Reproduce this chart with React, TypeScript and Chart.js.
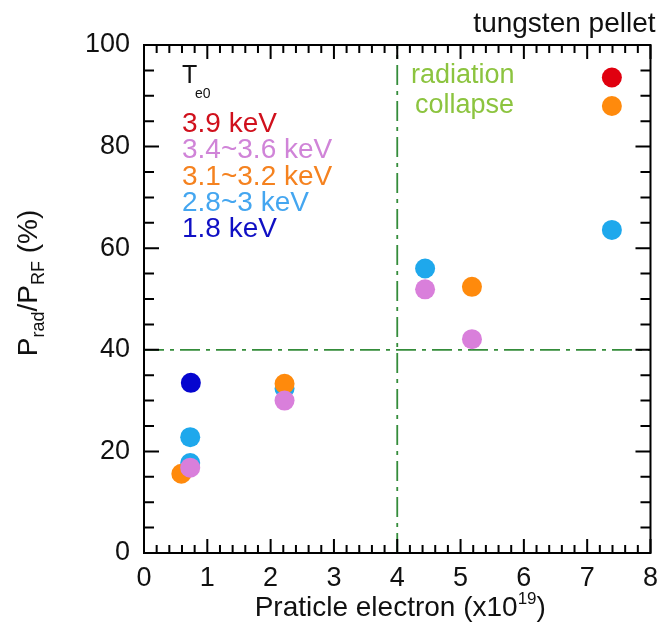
import React, { useEffect, useRef } from "react";
import { Chart, registerables } from "chart.js";

Chart.register(...registerables);

const FONT = '"Liberation Sans", Arial, Helvetica, sans-serif';

// Axis ranges / ticks
const xMin = 0;
const xMax = 8;
const xStep = 1;
const xMinorPerMajor = 5;
const yMin = 0;
const yMax = 100;
const yStep = 20;
const yMinorPerMajor = 4;

// Reference lines ("radiation collapse")
const collapseX = 4;
const collapseY = 40;

// Series (Te0 groups)
const seriesLabels = ["3.9 keV", "3.4~3.6 keV", "3.1~3.2 keV", "2.8~3 keV", "1.8 keV"];
const seriesColors = ["#e0000f", "#d97fdb", "#ff8a0c", "#1ea8ec", "#0505cf"];
const legendColors = ["#d0101c", "#d084d8", "#f5821f", "#44a6f0", "#1010c4"];

const red39X = [7.39];
const red39Y = [93.6];
const violetX = [0.73, 2.22, 4.44, 5.18];
const violetY = [16.8, 30.0, 51.9, 42.1];
const orangeX = [0.59, 2.22, 5.18, 7.39];
const orangeY = [15.6, 33.3, 52.4, 88.0];
const lightBlueX = [0.73, 0.73, 2.22, 4.44, 7.39];
const lightBlueY = [22.8, 17.7, 32.4, 56.0, 63.6];
const darkBlueX = [0.74];
const darkBlueY = [33.5];

const pts = (xs: number[], ys: number[]) => xs.map((x, i) => ({ x, y: ys[i] }));

const LINE_GREEN = "#348c3a";
const TEXT_GREEN = "#8cc43f";

function drawSegments(
  ctx: CanvasRenderingContext2D,
  segs: { t: string; s: number; dy: number }[],
  cx: number,
  baseY: number
) {
  let total = 0;
  for (const sg of segs) {
    ctx.font = `${sg.s}px ${FONT}`;
    total += ctx.measureText(sg.t).width;
  }
  let x = cx - total / 2;
  ctx.textAlign = "left";
  ctx.textBaseline = "alphabetic";
  for (const sg of segs) {
    ctx.font = `${sg.s}px ${FONT}`;
    ctx.fillText(sg.t, x, baseY + sg.dy);
    x += ctx.measureText(sg.t).width;
  }
}

const overlayPlugin = {
  id: "overlay",
  beforeDatasetsDraw(chart: any) {
    const { ctx, chartArea: a, scales } = chart;
    const px = scales.x.getPixelForValue(collapseX);
    const py = scales.y.getPixelForValue(collapseY);
    ctx.save();
    ctx.strokeStyle = LINE_GREEN;
    ctx.lineWidth = 1.8;
    ctx.setLineDash([20, 6, 4, 6]);
    ctx.beginPath();
    ctx.moveTo(px, a.bottom);
    ctx.lineTo(px, a.top);
    ctx.stroke();
    ctx.beginPath();
    ctx.moveTo(a.left, py);
    ctx.lineTo(a.right, py);
    ctx.stroke();
    ctx.restore();
  },
  afterDraw(chart: any) {
    const { ctx, chartArea: a, scales } = chart;
    const xs = scales.x;
    const ys = scales.y;
    ctx.save();
    // frame
    ctx.strokeStyle = "#000";
    ctx.lineWidth = 2;
    ctx.setLineDash([]);
    ctx.strokeRect(a.left, a.top, a.right - a.left, a.bottom - a.top);
    // x ticks (bottom & top, inward)
    const nx = ((xMax - xMin) / xStep) * xMinorPerMajor;
    ctx.beginPath();
    for (let i = 0; i <= nx; i++) {
      const v = xMin + (i * xStep) / xMinorPerMajor;
      const p = xs.getPixelForValue(v);
      const len = i % xMinorPerMajor === 0 ? 14 : 8;
      ctx.moveTo(p, a.bottom);
      ctx.lineTo(p, a.bottom - len);
      ctx.moveTo(p, a.top);
      ctx.lineTo(p, a.top + len);
    }
    const ny = ((yMax - yMin) / yStep) * yMinorPerMajor;
    for (let i = 0; i <= ny; i++) {
      const v = yMin + (i * yStep) / yMinorPerMajor;
      const p = ys.getPixelForValue(v);
      const len = i % yMinorPerMajor === 0 ? 15 : 10;
      ctx.moveTo(a.left, p);
      ctx.lineTo(a.left + len, p);
      ctx.moveTo(a.right, p);
      ctx.lineTo(a.right - len, p);
    }
    ctx.stroke();

    // Legend-like annotation
    ctx.fillStyle = "#111";
    ctx.textAlign = "left";
    ctx.textBaseline = "alphabetic";
    ctx.font = `25px ${FONT}`;
    ctx.fillText("T", a.left + 38, a.top + 38);
    ctx.font = `14px ${FONT}`;
    ctx.fillText("e0", a.left + 51, a.top + 53);
    ctx.font = `28px ${FONT}`;
    seriesLabels.forEach((lab, i) => {
      ctx.fillStyle = legendColors[i];
      ctx.fillText(lab, a.left + 38, a.top + 87 + i * 26.3);
    });

    // radiation collapse
    ctx.fillStyle = TEXT_GREEN;
    ctx.font = `27px ${FONT}`;
    ctx.fillText("radiation", a.left + 267, a.top + 38);
    ctx.fillText("collapse", a.left + 271, a.top + 68);

    // top-right label
    ctx.fillStyle = "#111";
    ctx.textAlign = "right";
    ctx.font = `28px ${FONT}`;
    ctx.fillText("tungsten pellet", a.right + 5, a.top - 13);

    // x title
    ctx.fillStyle = "#111";
    drawSegments(
      ctx,
      [
        { t: "Praticle electron (x10", s: 28, dy: 0 },
        { t: "19", s: 17, dy: -12 },
        { t: ")", s: 28, dy: 0 },
      ],
      (a.left + a.right) / 2 + 3,
      a.bottom + 63
    );

    // y title (rotated)
    ctx.save();
    ctx.translate(37, (a.top + a.bottom) / 2 - 16);
    ctx.rotate(-Math.PI / 2);
    drawSegments(
      ctx,
      [
        { t: "P", s: 28, dy: 0 },
        { t: "rad", s: 18, dy: 7 },
        { t: "/", s: 28, dy: 0 },
        { t: "P", s: 28, dy: 0 },
        { t: "RF", s: 18, dy: 7 },
        { t: " (%)", s: 28, dy: 0 },
      ],
      0,
      0
    );
    ctx.restore();
    ctx.restore();
  },
};

export default function App() {
  const ref = useRef<HTMLCanvasElement | null>(null);
  useEffect(() => {
    if (!ref.current) return;
    const mk = (label: string, data: { x: number; y: number }[], color: string, order: number) => ({
      label,
      data,
      backgroundColor: color,
      borderColor: color,
      borderWidth: 0,
      pointRadius: 10,
      pointHoverRadius: 10,
      pointStyle: "circle",
      showLine: false,
      order,
    });
    const chart = new Chart(ref.current, {
      type: "scatter",
      data: {
        datasets: [
          mk(seriesLabels[0], pts(red39X, red39Y), seriesColors[0], 0),
          mk(seriesLabels[1], pts(violetX, violetY), seriesColors[1], 0),
          mk(seriesLabels[2], pts(orangeX, orangeY), seriesColors[2], 1),
          mk(seriesLabels[3], pts(lightBlueX, lightBlueY), seriesColors[3], 2),
          mk(seriesLabels[4], pts(darkBlueX, darkBlueY), seriesColors[4], 0),
        ],
      },
      options: {
        animation: false,
        responsive: false,
        maintainAspectRatio: false,
        devicePixelRatio: 1,
        layout: { padding: { top: 45, right: 13, left: 0, bottom: 0 } },
        plugins: {
          legend: { display: false },
          tooltip: { enabled: false },
        },
        scales: {
          x: {
            type: "linear",
            min: xMin,
            max: xMax,
            grid: { display: false, drawTicks: false },
            border: { display: false },
            ticks: {
              stepSize: xStep,
              color: "#111",
              padding: 9,
              font: { family: FONT, size: 27 },
              maxRotation: 0,
            },
            afterFit: (s: any) => {
              s.height = 91;
            },
          },
          y: {
            type: "linear",
            min: yMin,
            max: yMax,
            grid: { display: false, drawTicks: false },
            border: { display: false },
            ticks: {
              stepSize: yStep,
              color: "#111",
              padding: 14,
              font: { family: FONT, size: 27 },
            },
            afterFit: (s: any) => {
              s.width = 144;
            },
          },
        },
      } as any,
      plugins: [overlayPlugin],
    });
    return () => chart.destroy();
  }, []);
  return (
    <>
      <style>{"body{margin:0;overflow:hidden;background:#fff}"}</style>
      <canvas ref={ref} width={667} height={644} style={{ display: "block" }} />
    </>
  );
}
